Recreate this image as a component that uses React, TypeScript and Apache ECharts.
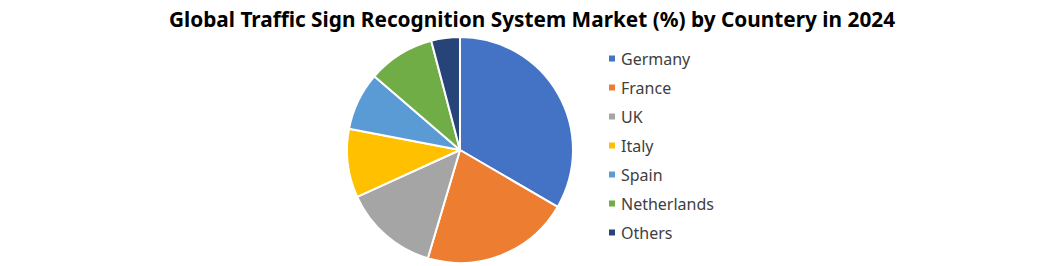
import React, { useEffect, useRef } from "react";
import * as echarts from "echarts";

const categories = ["Germany", "France", "UK", "Italy", "Spain", "Netherlands", "Others"];
const values = [33.4, 21.2, 13.6, 9.8, 8.3, 9.6, 4.1];
const colors = ["#4472C4", "#ED7D31", "#A5A5A5", "#FFC000", "#5B9BD5", "#70AD47", "#264478"];
const title = "Global Traffic Sign Recognition System Market (%) by Countery in 2024";

export default function App() {
  const ref = useRef<HTMLDivElement>(null);
  useEffect(() => {
    document.body.style.margin = "0";
    if (!ref.current) return;
    const chart = echarts.init(ref.current, null, { renderer: "svg" });
    chart.setOption({
      animation: false,
      backgroundColor: "#ffffff",
      color: colors,
      title: {
        text: title,
        left: 527,
        textAlign: "center",
        top: 3,
        textStyle: {
          fontFamily: "Noto Sans",
          fontWeight: "bold",
          fontSize: 20.8,
          color: "#000000",
        },
      },
      legend: {
        orient: "vertical",
        left: 602,
        top: 45,
        itemWidth: 8,
        itemHeight: 8,
        itemGap: 12,
        icon: "rect",
        data: categories,
        textStyle: {
          fontFamily: "Noto Sans",
          fontSize: 16,
          lineHeight: 17,
          color: "#404040",
          padding: [0, 0, 0, 0],
        },
      },
      series: [
        {
          type: "pie",
          center: [460, 150],
          radius: 113,
          startAngle: 90,
          clockwise: true,
          label: { show: false },
          labelLine: { show: false },
          itemStyle: { borderColor: "#ffffff", borderWidth: 2 },
          emphasis: { disabled: true },
          data: categories.map((name, i) => ({ name, value: values[i] })),
        },
      ],
    });
    return () => chart.dispose();
  }, []);
  return <div ref={ref} style={{ width: 1055, height: 266 }} />;
}
